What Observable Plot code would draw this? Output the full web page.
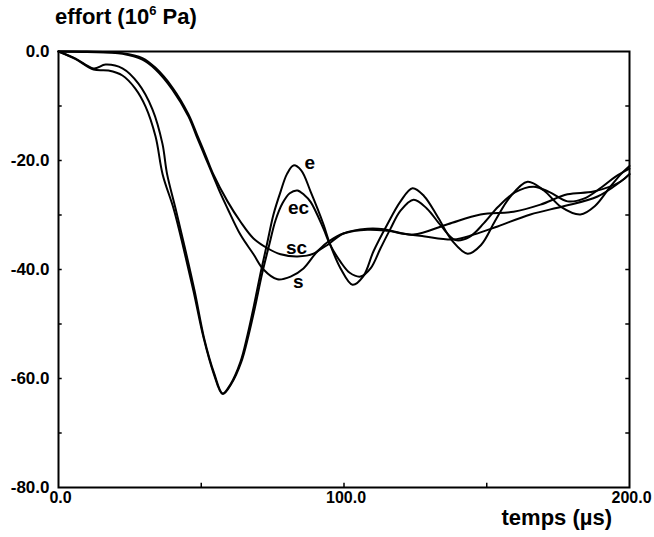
<!DOCTYPE html>
<html>
<head>
<meta charset="utf-8">
<script src="https://cdn.jsdelivr.net/npm/d3@7"></script>
<script src="https://cdn.jsdelivr.net/npm/@observablehq/plot@0.6"></script>
<style>
  html, body { margin: 0; padding: 0; background: #fff; }
  #wrap { position: relative; width: 654px; height: 537px; font-family: "Liberation Sans", Arial, Helvetica, sans-serif; font-weight: bold; color: #000; }
  #wrap svg { position: absolute; left: 0; top: 0; }
  .lbl { position: absolute; white-space: nowrap; }
  #title { left: 55px; top: 4px; font-size: 22px; }
  #title sup { font-size: 13px; position: relative; top: -1px; }
  #xlabel { right: 42px; top: 505px; font-size: 22px; }
</style>
</head>
<body>
<div id="wrap">
  <div id="title" class="lbl">effort (10<sup>6</sup> Pa)</div>
  <div id="xlabel" class="lbl">temps (µs)</div>
</div>
<script>
// ---- data (time in µs, stress in 10^6 Pa) ----
const eT  = [0, 6, 12.3, 17.5, 22.4, 26.9, 30.5, 34, 36.5, 40.3, 43.8, 47.3, 50.8, 54.3, 57.4, 60.2, 63.7, 66.2, 68.3, 70.8, 73.2, 75.3, 77.8, 80, 82.3, 85, 88.3, 92.8, 95, 98.8, 103, 106.8, 110.3, 115.2, 119.8, 124, 128, 133, 138, 143.3, 148, 153, 158, 164.3, 170, 176, 182.8, 188, 193, 197, 200];
const eV  = [0, -1.4, -3.3, -3.5, -4.4, -6.8, -10.1, -15.6, -22.6, -28.8, -36.1, -44.0, -52.5, -59.0, -62.8, -61.1, -57.0, -52.0, -47.0, -40.6, -34.9, -29.9, -25.7, -22.5, -20.9, -21.8, -25.7, -31.7, -35.2, -39.8, -42.8, -41.2, -36.7, -31.7, -27.5, -25.1, -26.5, -30.5, -34.8, -37.1, -35.5, -31.0, -26.8, -23.9, -25.5, -28.5, -29.9, -28.3, -25.0, -22.5, -21.0];

const ecT = [0, 6, 12.3, 16.5, 22.4, 28, 32.9, 36.4, 38, 41, 44.3, 47.7, 51, 54.5, 57.6, 60.5, 64, 66.6, 68.8, 71.3, 73.8, 76, 78.5, 81, 83.7, 86, 88.3, 92.8, 95, 98.8, 102, 105.8, 109.3, 112.8, 116.3, 119.8, 124.4, 129, 134, 139, 144, 149, 154, 160, 166.4, 172, 178.3, 184, 190, 195, 200];
const ecV = [0, -1.3, -3.1, -2.4, -3.1, -5.9, -10.6, -16.9, -22.4, -28.8, -36.1, -44.0, -52.6, -59.0, -62.8, -61.0, -57.0, -52.0, -47.0, -40.8, -35.5, -31.0, -27.8, -26.0, -25.5, -26.3, -27.6, -32.5, -35.3, -38.6, -40.6, -41.3, -39.8, -36.1, -32.5, -29.2, -27.2, -28.8, -32.0, -34.6, -34.0, -31.5, -28.5, -25.8, -24.8, -25.8, -27.5, -27.0, -25.0, -23.0, -21.5];

const sT  = [0, 10, 22.4, 29.4, 34, 39.9, 45.5, 48.7, 51.5, 54.3, 56.7, 59.2, 63.7, 68.3, 71.8, 76.7, 81.3, 85.8, 90.7, 94.2, 99.8, 108.2, 114, 119.8, 127.8, 138.4, 145.4, 153.8, 165.3, 176.9, 188.8, 196.8, 200];
const sV  = [0, -0.1, -0.4, -1.5, -3.3, -7.0, -11.9, -16.0, -19.5, -23.0, -26.0, -28.8, -33.6, -37.2, -40.0, -41.8, -41.3, -39.8, -36.7, -35.5, -33.4, -32.5, -32.6, -33.3, -33.9, -34.5, -33.6, -32.1, -29.9, -28.4, -26.6, -23.9, -22.5];

const scT = [0, 10, 22.4, 29.4, 34, 39.9, 45.5, 48.7, 51.5, 54.3, 59.2, 63.7, 68.3, 73.2, 77.8, 83.7, 89.3, 94.2, 99.8, 108.2, 115.2, 124.3, 136.3, 147.8, 159.4, 168.8, 178.3, 187.4, 196.8, 200];
const scV = [0, 0, -0.3, -1.2, -3.0, -6.6, -11.5, -15.5, -19.0, -22.6, -27.5, -31.2, -34.3, -36.1, -37.2, -37.6, -37.1, -35.0, -33.4, -32.7, -32.9, -33.6, -31.7, -29.9, -29.4, -28.1, -26.2, -25.7, -23.9, -22.5];

const seriesNames = ["e", "ec", "s", "sc"];
const labelT = [88, 84.1, 84, 83.4];
const labelV = [-20.4, -28.7, -42.2, -36.1];

const xTicks = [0, 100, 200];
const yTicks = [0, -20, -40, -60, -80];
const xMinor = [50, 100, 150];
const yMinor = [-10, -20, -30, -40, -50, -60, -70];

// ---- build table ----
const pairs = [[eT, eV], [ecT, ecV], [sT, sV], [scT, scV]];
const rows = [];
pairs.forEach(([ts, vs], i) => ts.forEach((t, j) => rows.push({series: seriesNames[i], t, v: vs[j]})));
const labels = seriesNames.map((name, i) => ({name, t: labelT[i], v: labelV[i]}));

const chart = Plot.plot({
  width: 654,
  height: 537,
  marginLeft: 58,
  marginRight: 25,
  marginTop: 51,
  marginBottom: 50,
  style: {fontFamily: '"Liberation Sans", Arial, Helvetica, sans-serif', fontWeight: "bold", fontSize: "17px", color: "#000", background: "transparent"},
  x: {domain: [0, 200]},
  y: {domain: [-80, 0]},
  marks: [
    Plot.axisY(yTicks, {tickSize: 0, tickPadding: 9, tickFormat: d => d.toFixed(1), label: null, fontSize: 17, fontWeight: "bold"}),
    Plot.axisX(xTicks, {tickSize: 0, tickPadding: 4, tickFormat: d => d.toFixed(1), label: null, dx: 2, fontSize: 16, fontWeight: "bold"}),
    Plot.ruleY(yMinor, {x1: 0, x2: 1.3, stroke: "black", strokeWidth: 1.5}),
    Plot.ruleY(yMinor, {x1: 198.7, x2: 200, stroke: "black", strokeWidth: 1.5}),
    Plot.ruleX(xMinor, {y1: -80, y2: -79.2, stroke: "black", strokeWidth: 1.5}),
    Plot.line(rows, {x: "t", y: "v", z: "series", curve: "catmull-rom", stroke: "black", strokeWidth: 2}),
    Plot.text(labels, {x: "t", y: "v", text: "name", fontSize: 19, fontWeight: "bold", fill: "black", stroke: "white", strokeWidth: 2}),
    Plot.frame({stroke: "black", strokeWidth: 2})
  ]
});
document.getElementById("wrap").prepend(chart);
</script>
</body>
</html>
